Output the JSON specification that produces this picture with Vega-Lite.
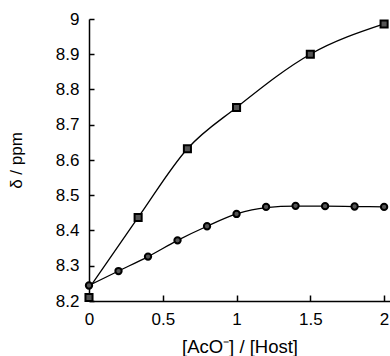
{
  "$schema": "https://vega.github.io/schema/vega-lite/v6.json",
  "autosize": "none",
  "width": 301,
  "height": 282,
  "padding": {"left": 89, "top": 19, "right": 0, "bottom": 55},
  "background": "white",
  "config": {
    "view": {"stroke": null},
    "font": "Liberation Sans",
    "axis": {
      "labelFont": "Liberation Sans",
      "titleFont": "Liberation Sans",
      "labelColor": "black",
      "titleColor": "black",
      "domainColor": "black",
      "tickColor": "black",
      "domainWidth": 1.5,
      "tickWidth": 1.5,
      "grid": false,
      "labelFontSize": 17,
      "titleFontSize": 17,
      "titleFontWeight": "normal"
    }
  },
  "datasets": {
    "pts": [
      {"x": 0, "y": 8.21, "s": "sq"},
      {"x": 0.333, "y": 8.437, "s": "sq"},
      {"x": 0.667, "y": 8.632, "s": "sq"},
      {"x": 1.0, "y": 8.749, "s": "sq"},
      {"x": 1.5, "y": 8.9, "s": "sq"},
      {"x": 2.0, "y": 8.986, "s": "sq"},
      {"x": 0, "y": 8.244, "s": "ci"},
      {"x": 0.2, "y": 8.285, "s": "ci"},
      {"x": 0.4, "y": 8.326, "s": "ci"},
      {"x": 0.6, "y": 8.372, "s": "ci"},
      {"x": 0.8, "y": 8.412, "s": "ci"},
      {"x": 1.0, "y": 8.447, "s": "ci"},
      {"x": 1.2, "y": 8.467, "s": "ci"},
      {"x": 1.4, "y": 8.47, "s": "ci"},
      {"x": 1.6, "y": 8.469, "s": "ci"},
      {"x": 1.8, "y": 8.468, "s": "ci"},
      {"x": 2.0, "y": 8.467, "s": "ci"}
    ],
    "fit": [
      {"x": 0, "y": 8.236, "s": "sq"},
      {"x": 0.333, "y": 8.437, "s": "sq"},
      {"x": 0.667, "y": 8.632, "s": "sq"},
      {"x": 1.0, "y": 8.749, "s": "sq"},
      {"x": 1.5, "y": 8.9, "s": "sq"},
      {"x": 2.0, "y": 8.986, "s": "sq"},
      {"x": 0, "y": 8.244, "s": "ci"},
      {"x": 0.2, "y": 8.285, "s": "ci"},
      {"x": 0.4, "y": 8.326, "s": "ci"},
      {"x": 0.6, "y": 8.372, "s": "ci"},
      {"x": 0.8, "y": 8.412, "s": "ci"},
      {"x": 1.0, "y": 8.447, "s": "ci"},
      {"x": 1.2, "y": 8.465, "s": "ci"},
      {"x": 1.4, "y": 8.469, "s": "ci"},
      {"x": 1.6, "y": 8.469, "s": "ci"},
      {"x": 1.8, "y": 8.468, "s": "ci"},
      {"x": 2.0, "y": 8.467, "s": "ci"}
    ]
  },
  "encoding": {
    "x": {
      "field": "x", "type": "quantitative",
      "scale": {"domain": [0, 2.04], "nice": false, "zero": false},
      "axis": {
        "values": [0, 0.5, 1, 1.5, 2],
        "format": "~g",
        "tickSize": -6,
        "labelPadding": 16,
        "labelFlush": false,
        "labelBound": false,
        "labelOverlap": false,
        "title": "[AcO⁻] / [Host]",
        "titleFontSize": 18.5,
        "titlePadding": 10
      }
    },
    "y": {
      "field": "y", "type": "quantitative",
      "scale": {"domain": [8.2, 9.0], "nice": false, "zero": false},
      "axis": {
        "values": [8.2, 8.3, 8.4, 8.5, 8.6, 8.7, 8.8, 8.9, 9],
        "format": "~g",
        "tickSize": -5,
        "labelPadding": 15,
        "labelFlush": false,
        "labelOverlap": false,
        "title": "δ / ppm",
        "titlePadding": 30
      }
    }
  },
  "layer": [
    {
      "data": {"name": "fit"},
      "mark": {"type": "line", "color": "black", "strokeWidth": 1.3, "interpolate": "monotone", "clip": true},
      "encoding": {"detail": {"field": "s"}}
    },
    {
      "data": {"name": "pts"},
      "transform": [{"filter": "datum.s == 'sq'"}],
      "mark": {"type": "point", "shape": "square", "filled": true, "fill": "#555555", "stroke": "black", "strokeWidth": 2, "size": 50, "opacity": 1, "clip": false}
    },
    {
      "data": {"name": "pts"},
      "transform": [{"filter": "datum.s == 'ci'"}],
      "mark": {"type": "point", "shape": "circle", "filled": true, "fill": "#555555", "stroke": "black", "strokeWidth": 2, "size": 40, "opacity": 1, "clip": false}
    },
    {
      "data": {"values": [{}]},
      "mark": {"type": "rule", "color": "black", "strokeWidth": 1.5},
      "encoding": {
        "x": {"datum": 0, "type": "quantitative"},
        "x2": {"datum": 2.04},
        "y": {"datum": 9, "type": "quantitative"}
      }
    }
  ]
}
